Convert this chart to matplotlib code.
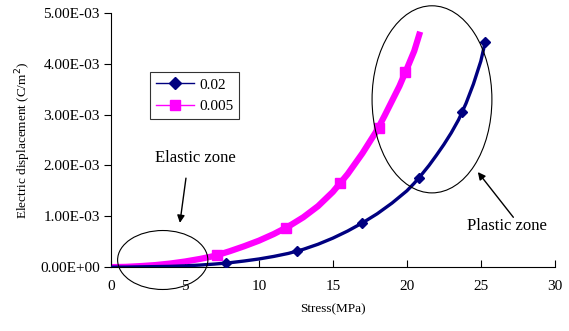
import matplotlib
matplotlib.use("Agg")
import matplotlib.pyplot as plt
from matplotlib.patches import Ellipse
from matplotlib.lines import Line2D

# Data (stress MPa, electric displacement in 1e-3 C/m^2)
stress_a = [0, 1, 2, 3, 4, 5, 6, 7, 8, 9, 10, 11, 12, 13, 14, 15, 16, 17, 18, 19, 20,
            20.5, 21, 21.5, 22, 22.5, 23, 23.5, 24, 24.5, 25, 25.3]
disp_a = [0, 0.0, 0.005, 0.01, 0.015, 0.025, 0.04, 0.06, 0.085, 0.12, 0.16, 0.21, 0.27, 0.35, 0.45, 0.57,
          0.71, 0.87, 1.05, 1.26, 1.5,
          1.65, 1.82, 2.0, 2.2, 2.41, 2.64, 2.9, 3.22, 3.6, 4.05, 4.43]
mark_x_a = [7.8, 12.6, 17.0, 20.8, 23.7, 25.3]
mark_y_a = [0.08, 0.31, 0.87, 1.75, 3.05, 4.43]

stress_b = [0, 1, 2, 3, 4, 5, 6, 7, 8, 9, 10, 11, 12, 13, 14, 15, 16, 17, 18, 18.5, 19, 19.5, 20, 20.5, 20.9]
disp_b = [0, 0.005, 0.02, 0.04, 0.07, 0.11, 0.16, 0.22, 0.31, 0.41, 0.52, 0.65, 0.80, 0.98, 1.2, 1.48,
          1.83, 2.24, 2.7, 2.98, 3.27, 3.56, 3.9, 4.25, 4.63]
mark_x_b = [7.2, 11.8, 15.5, 18.1, 19.9]
mark_y_b = [0.24, 0.77, 1.65, 2.74, 3.84]

labels = ["0.02", "0.005"]
xticks = [0, 5, 10, 15, 20, 25, 30]
yticks = [0, 1, 2, 3, 4, 5]
ytick_labels = ["0.00E+00", "1.00E-03", "2.00E-03", "3.00E-03", "4.00E-03", "5.00E-03"]

plt.rcParams['font.family'] = ['Liberation Serif', 'DejaVu Serif']

fig = plt.figure(figsize=(5.69, 3.31), dpi=100)
ax = fig.add_axes([0.195, 0.193, 0.78, 0.768])

blue = '#000080'
pink = '#FF00FF'

ax.plot(stress_a, disp_a, color=blue, lw=2.4, solid_capstyle='butt', solid_joinstyle='round', zorder=3)
ax.plot(mark_x_a, mark_y_a, ls='none', marker='D', ms=5, color=blue, zorder=4)
ax.plot(stress_b, disp_b, color=pink, lw=4.5, solid_capstyle='butt', solid_joinstyle='round', zorder=2)
ax.plot(mark_x_b, mark_y_b, ls='none', marker='s', ms=7, color=pink, zorder=2)

ax.set_xlim(0, 30)
ax.set_ylim(0, 5)
ax.set_xticks(xticks)
ax.set_yticks(yticks)
ax.set_yticklabels(ytick_labels)
ax.tick_params(axis='x', direction='in', length=5, pad=9, labelsize=11)
ax.tick_params(axis='y', direction='out', length=5, pad=3, labelsize=11)
for s in ['top', 'right']:
    ax.spines[s].set_visible(False)
ax.spines['left'].set_color('black')
ax.spines['bottom'].set_color('black')

ax.set_xlabel("Stress(MPa)", fontsize=9.5, labelpad=8)
ax.set_ylabel("Electric displacement (C/m$^2$)", fontsize=9.5, labelpad=5)

# Ellipses
e1 = Ellipse((3.5, 0.14), 6.1, 1.16, fill=False, ec='black', lw=0.8, clip_on=False, zorder=5)
e2 = Ellipse((21.7, 3.30), 8.1, 3.68, fill=False, ec='black', lw=0.8, clip_on=False, zorder=5)
ax.add_patch(e1)
ax.add_patch(e2)

ax.annotate("", xy=(4.66, 0.87), xytext=(5.07, 1.75),
            arrowprops=dict(arrowstyle='-|>', color='black', lw=1.0, mutation_scale=11,
                            shrinkA=0, shrinkB=0))
ax.text(5.7, 2.15, "Elastic zone", fontsize=12, ha='center', va='center')
ax.annotate("", xy=(24.8, 1.87), xytext=(27.2, 0.98),
            arrowprops=dict(arrowstyle='-|>', color='black', lw=1.0, mutation_scale=11,
                            shrinkA=0, shrinkB=0))
ax.text(26.8, 0.81, "Plastic zone", fontsize=12, ha='center', va='center')

handles = [Line2D([], [], color=blue, lw=1, marker='D', ms=6),
           Line2D([], [], color=pink, lw=1, marker='s', ms=7)]
leg = ax.legend(handles, labels, loc='upper left', bbox_to_anchor=(0.088, 0.768), fontsize=11,
                frameon=True, fancybox=False, edgecolor='black', handlelength=2.5,
                borderpad=0.4, labelspacing=0.5, handletextpad=0.3, borderaxespad=0)
leg.get_frame().set_linewidth(0.8)

fig.savefig("out.png", dpi=100)
